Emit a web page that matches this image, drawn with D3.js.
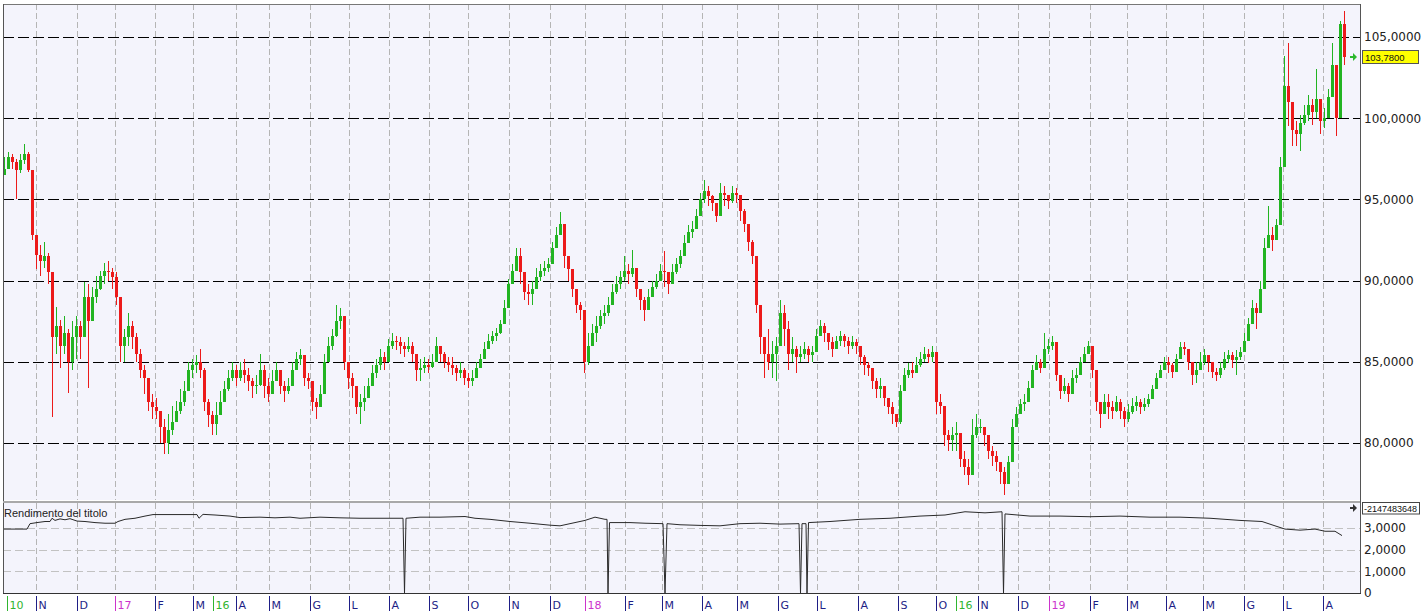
<!DOCTYPE html>
<html><head><meta charset="utf-8">
<script src="https://cdn.jsdelivr.net/npm/d3@7"></script>
<style>body{margin:0;background:#fff}svg{display:block}</style>
</head><body>
<svg id="chart" width="1421" height="612"></svg>
<script>
// ---- DATA (each bar ~ 2 trading days, Oct 2016 .. Aug 2019) ----
const closes = [
96.9,97.6,97.3,96.8,97.4,97.8,96.8,92.8,91.6,91.2,
91.5,90.5,86.5,87.2,86.0,86.8,85.0,86.5,87.2,86.5,
89.0,87.5,89.0,89.5,90.3,90.6,90.5,90.2,89.0,86.0,
86.5,87.2,86.5,85.5,84.5,84.0,82.5,82.2,82.0,81.0,
80.0,80.8,81.3,82.0,82.5,83.2,84.5,84.8,85.0,84.5,
82.5,81.7,81.2,81.7,82.5,83.3,84.0,84.5,84.0,84.5,
84.2,83.8,83.5,83.6,84.5,83.5,83.0,83.8,84.5,83.5,
83.2,83.5,84.5,85.2,85.4,84.0,83.8,82.5,82.2,83.0,
85.0,86.0,86.6,87.5,87.8,85.0,84.0,83.5,82.2,82.5,
82.8,83.5,84.3,84.8,85.3,85.0,86.0,86.3,86.2,86.0,
85.8,86.0,85.5,84.5,84.6,84.8,84.7,85.0,86.0,85.5,
85.0,84.8,84.6,84.3,84.5,84.0,83.8,84.0,84.6,85.2,
85.8,86.3,86.6,86.8,87.3,88.3,89.8,90.6,91.5,90.5,
89.3,89.2,89.5,90.2,90.6,90.8,91.0,92.0,92.8,93.5,
91.5,90.7,89.5,88.5,88.2,85.0,86.0,86.8,87.2,87.8,
88.0,88.5,89.3,89.8,90.2,90.6,90.4,90.8,89.5,88.8,
88.2,89.0,89.6,90.0,90.6,90.5,89.8,90.5,91.0,91.5,
92.3,93.0,93.2,94.0,95.0,95.5,95.2,94.8,94.0,95.4,
95.3,94.9,95.4,95.3,94.3,93.5,92.4,91.5,88.5,86.5,
85.5,85.0,85.5,86.0,88.0,87.0,85.5,85.8,85.3,85.5,
85.8,85.4,85.6,86.6,87.2,86.8,86.2,85.8,86.3,86.6,
86.3,86.0,86.2,86.0,85.3,84.8,84.6,83.8,83.3,83.5,
82.8,82.2,81.8,81.3,83.2,84.2,84.5,84.3,84.8,85.2,
85.5,85.3,85.6,82.5,82.3,80.5,80.2,80.5,80.6,79.0,
78.5,78.0,80.5,81.0,81.0,80.5,79.5,79.2,78.8,78.2,
77.5,78.8,81.0,81.8,82.4,82.5,83.4,84.5,85.0,84.6,
85.8,86.0,86.2,84.2,83.2,83.5,83.0,84.0,84.2,85.0,
85.5,86.0,84.5,82.5,81.8,82.5,82.2,82.0,82.5,82.0,
81.5,81.9,82.3,82.5,82.2,82.4,82.7,83.3,84.0,84.5,
85.0,84.8,84.4,85.2,85.9,85.8,85.0,84.2,84.5,85.0,
85.4,85.0,84.4,84.2,84.6,85.2,85.4,85.1,85.3,85.6,
86.3,87.3,88.3,88.0,89.5,92.0,92.8,92.5,93.4,97.0,
102.0,101.0,99.3,99.0,99.7,100.2,100.8,100.4,101.2,99.8,
100.0,101.3,103.3,100.0,105.8,103.78
];
const highs = [
97.6,97.9,97.8,97.5,97.8,98.4,97.9,96.5,92.6,92.2,
92.4,91.7,88.5,88.4,87.6,87.8,87.0,87.5,87.8,87.5,
89.9,89.8,89.6,90.3,90.6,91.1,91.2,90.8,90.5,88.5,
87.0,88.0,87.5,86.8,85.8,84.8,83.5,83.0,82.8,82.0,
81.5,81.8,82.3,82.6,83.3,83.8,85.0,85.2,85.4,85.8,
84.6,82.7,82.0,82.5,83.2,83.8,84.5,85.0,84.8,85.0,
85.2,84.6,84.0,84.2,85.5,84.8,84.0,84.5,85.0,84.3,
83.8,84.0,85.0,85.6,85.8,85.2,84.3,83.5,82.8,83.6,
85.5,86.5,87.0,88.5,88.3,87.8,85.0,84.3,83.5,83.0,
83.5,84.0,84.8,85.2,85.8,85.6,86.4,86.8,86.6,86.5,
86.2,86.5,86.2,85.5,85.2,85.3,85.2,85.5,86.5,86.0,
85.6,85.3,85.3,84.8,85.0,84.6,84.3,84.5,85.0,85.5,
86.2,86.7,86.9,87.1,87.6,88.8,90.1,91.0,92.0,92.0,
90.3,89.8,90.0,90.8,91.0,91.2,91.4,92.4,93.3,94.2,
93.5,91.4,90.6,89.5,88.7,88.0,86.8,87.3,87.8,88.2,
88.5,89.0,89.8,90.3,90.6,91.5,91.0,91.9,90.8,89.5,
89.0,89.5,90.0,90.4,91.0,91.8,90.5,91.0,91.4,91.9,
92.8,93.4,93.7,94.4,95.4,96.2,95.8,95.3,94.8,96.0,
95.8,95.3,95.8,95.7,95.0,94.4,93.3,92.5,90.5,88.0,
86.5,87.0,86.3,86.5,88.8,88.5,87.5,86.5,86.0,86.0,
86.2,86.0,86.0,87.0,87.6,87.4,86.8,86.5,86.6,86.9,
86.7,86.5,86.6,86.4,86.0,85.4,85.0,84.6,84.0,84.0,
83.5,82.8,82.5,81.8,83.6,84.6,84.9,85.0,85.3,85.6,
85.9,85.8,86.0,84.0,83.0,82.0,80.8,81.0,81.3,80.2,
79.5,79.0,81.5,81.8,81.5,81.0,80.3,79.8,79.5,78.8,
78.5,79.2,81.5,82.2,82.7,83.0,83.8,84.8,85.4,85.2,
86.8,86.4,86.6,86.0,84.0,84.0,83.7,84.5,84.6,85.3,
85.9,86.3,86.0,84.0,82.5,83.0,83.0,82.6,82.9,82.7,
82.2,82.4,82.8,82.9,82.7,82.8,83.0,83.6,84.3,84.8,
85.3,85.3,84.9,85.5,86.2,86.2,85.8,85.0,85.0,85.6,
85.8,85.4,84.9,84.6,85.0,85.6,85.7,85.6,85.7,85.9,
86.8,87.7,88.8,88.6,90.0,92.6,94.6,93.3,93.8,97.6,
103.8,104.6,100.5,99.8,100.2,100.8,101.4,101.2,103.0,101.0,
100.6,101.8,104.6,102.5,106.0,106.6
];
const lows = [
96.5,96.9,96.9,95.0,96.6,97.2,96.7,92.5,90.7,90.3,
90.8,89.8,81.6,85.5,84.6,85.5,83.1,84.5,85.2,85.2,
87.0,83.4,88.0,88.6,89.4,89.8,90.0,89.5,88.5,85.0,
85.0,86.0,85.8,85.0,84.0,83.0,82.0,81.5,81.5,80.0,
79.3,79.3,80.5,81.3,81.8,82.3,83.2,84.0,84.3,84.0,
82.0,81.0,80.5,80.5,81.8,82.5,83.2,83.8,83.5,83.8,
83.7,83.2,82.8,83.0,83.5,82.8,82.5,83.0,83.8,83.0,
82.5,83.0,83.8,84.6,84.8,83.5,83.3,82.0,81.5,82.2,
83.5,85.0,85.7,86.5,87.0,84.5,83.3,82.8,81.8,81.2,
82.0,82.8,83.5,84.0,84.5,84.5,85.0,85.8,85.7,85.5,
85.3,85.6,85.0,83.8,83.8,84.3,84.3,84.6,85.0,85.0,
84.6,84.4,84.2,83.8,84.0,83.6,83.4,83.5,84.0,84.6,
85.2,85.8,86.1,86.3,86.7,87.5,89.0,89.9,90.8,89.8,
88.8,88.5,88.5,89.6,90.0,90.3,90.5,91.0,92.2,92.8,
90.8,90.0,89.0,88.0,87.6,84.3,84.8,86.0,86.2,87.0,
87.3,87.8,88.8,89.2,89.5,90.0,89.8,90.2,89.0,88.2,
87.5,88.3,89.0,89.5,90.0,89.6,89.2,89.8,90.4,90.8,
91.8,92.4,92.6,93.3,94.3,94.8,94.6,94.3,93.6,94.5,
94.6,94.4,94.8,94.8,93.7,93.0,91.8,91.0,88.0,85.5,
84.0,84.5,84.0,83.8,86.5,86.0,84.5,85.0,84.3,85.0,
85.2,85.0,85.0,85.8,86.6,86.2,85.7,85.3,85.8,86.0,
85.9,85.5,85.8,85.5,84.8,84.2,84.1,83.3,82.8,82.8,
82.3,81.8,81.2,81.0,81.2,83.5,84.0,84.0,84.4,84.7,
85.0,84.9,85.0,81.8,81.8,79.8,79.5,79.5,79.5,78.5,
78.0,77.4,79.0,80.3,80.6,79.8,79.0,78.6,78.3,77.5,
76.8,78.0,78.8,81.2,81.8,82.0,82.8,83.8,84.5,84.3,
85.2,85.5,85.7,83.8,82.7,83.0,82.5,83.5,83.7,84.5,
85.0,85.5,84.0,82.0,80.9,81.8,81.5,81.5,81.9,81.5,
81.0,81.3,81.8,82.0,81.8,82.0,82.2,82.8,83.4,84.0,
84.5,84.3,84.0,84.6,85.3,85.4,84.5,83.6,83.7,84.5,
84.8,84.4,84.0,83.8,84.0,84.5,84.9,84.6,84.2,85.1,
85.7,86.6,87.7,87.0,88.8,90.5,92.0,91.8,92.8,93.5,
97.5,99.5,98.3,98.3,98.0,99.6,99.8,99.6,100.0,99.0,
99.4,100.4,102.2,98.9,100.5,103.3
];
const firstOpen = 96.5;
const lastPrice = 103.78;
const priceTicks = [80, 85, 90, 95, 100, 105];
const perfTicks = [0, 1, 2, 3];
const perfLastText = "-2147483648";
const perfTitle = "Rendimento del titolo";

// time axis: label, kind (d = day, m = month, y = year), position in bar units
const tickLabels = ["10","N","D","17","F","M","16","A","M","G","L","A","S","O","N","D","18","F","M","A","M","G","L","A","S","O","16","N","D","19","F","M","A","M","G","L","A"];
const tickKinds  = ["d","m","m","y","m","m","d","m","m","m","m","m","m","m","m","m","y","m","m","m","m","m","m","m","m","m","d","m","m","y","m","m","m","m","m","m","m"];
const tickBars   = [0.75,8,18.25,27.75,37.75,47.25,52.25,58,66.25,76.5,86.25,96.25,106.25,116,126.25,136.5,145.25,155.25,164.5,174.5,183.25,193.5,203.25,213.5,223.5,233,238,243.5,253.5,261.25,271.5,280.75,290.5,299.75,310,319.75,329.75];

// "Rendimento del titolo" line: time (bar units) and value
const perfBars = [-0.25,5.75,6.5,8.25,10.25,11.5,12,12.75,14,15.25,16.5,18.25,20.25,22.75,25.25,27.75,28.5,30.25,32.75,35.25,37.25,48.25,48.75,49.75,52.75,56.5,59,64,67.75,71.5,74,79,84,89,94,99.75,100.125,100.5,104,109,115.25,117.75,121.5,126.5,131.5,136.5,139,141.5,145.25,147.75,150.25,150.75,151,151.375,156.5,160.25,164.75,165.25,165.75,169,174,179,184,189,194,198.75,199.125,199.5,200.5,200.75,201.125,206.5,214,221.5,229,235.25,240.25,245.25,249.5,249.875,250.25,256.5,264,271.5,279,286.5,294,301.5,309,314.5,317.75,320.25,324,327.75,330.25,332.75,334.5];
const perfVals = [2.95,2.95,3.2,3.25,3.3,3.3,3.45,3.35,3.42,3.38,3.43,3.32,3.3,3.25,3.22,3.22,3.3,3.4,3.45,3.55,3.62,3.62,3.45,3.63,3.6,3.55,3.48,3.5,3.47,3.5,3.45,3.5,3.47,3.45,3.45,3.45,0,3.45,3.5,3.5,3.53,3.45,3.4,3.3,3.22,3.13,3.1,3.2,3.35,3.5,3.4,3.4,0,3.25,3.25,3.22,3.2,0,3.2,3.15,3.12,3.1,3.2,3.22,3.18,3.2,0,3.2,3.2,0,3.25,3.3,3.4,3.45,3.55,3.6,3.75,3.7,3.75,0,3.65,3.55,3.55,3.52,3.55,3.5,3.5,3.45,3.35,3.3,3.1,2.95,2.9,2.95,2.85,2.85,2.65];

(function () {
// ---- LAYOUT ----
const pL = 3, pR = 1360, pT = 4, mainB = 500, subT = 503, subB = 593;
const bg = "#f4f4fc";
const upColor = "#22b422", downColor = "#ec1a1a";
const kindColor = {d: "#2fb52f", m: "#1e1e86", y: "#cc33cc"};

const svg = d3.select("#chart");
const x = d3.scaleLinear().domain([0, closes.length - 1]).range([4, 1344]);
const y = d3.scaleLinear().domain([80, 105]).range([443, 37]);
const ys = d3.scaleLinear().domain([0, 3]).range([593, 528]);

svg.append("rect").attr("width", 1421).attr("height", 612).attr("fill", "#fff");
svg.append("rect").attr("x", pL).attr("y", pT).attr("width", pR - pL).attr("height", mainB - pT).attr("fill", bg);
svg.append("rect").attr("x", pL).attr("y", subT).attr("width", pR - pL).attr("height", subB - subT).attr("fill", bg);

// vertical grid (months and years)
const gridBars = tickBars.filter((d, i) => tickKinds[i] !== "d");
const vg = svg.append("g").attr("stroke", "#b5b5b5").attr("stroke-dasharray", "6,3").attr("shape-rendering", "crispEdges");
gridBars.forEach(b => {
  const xx = Math.round(x(b)) + 0.5;
  vg.append("line").attr("x1", xx).attr("x2", xx).attr("y1", pT).attr("y2", mainB);
  vg.append("line").attr("x1", xx).attr("x2", xx).attr("y1", subT).attr("y2", subB);
});

// horizontal grid
const hg = svg.append("g").attr("shape-rendering", "crispEdges");
priceTicks.forEach(v => {
  const yy = Math.round(y(v)) + 0.5;
  hg.append("line").attr("x1", pL).attr("x2", pR).attr("y1", yy).attr("y2", yy)
    .attr("stroke", "#000").attr("stroke-dasharray", "11,4");
});
perfTicks.filter(v => v > 0).forEach(v => {
  const yy = Math.round(ys(v)) + 0.5;
  hg.append("line").attr("x1", pL).attr("x2", pR).attr("y1", yy).attr("y2", yy)
    .attr("stroke", "#c2c2c2").attr("stroke-dasharray", "8,4");
});

// candles
const bars = closes.map((c, i) => {
  const o = i === 0 ? firstOpen : closes[i - 1];
  return {i, o, c, h: Math.max(highs[i], o, c), l: Math.min(lows[i], o, c)};
});
const cg = svg.append("g").attr("shape-rendering", "crispEdges");
cg.selectAll("line").data(bars).join("line")
  .attr("x1", d => x(d.i) + 0.5).attr("x2", d => x(d.i) + 0.5)
  .attr("y1", d => y(d.h)).attr("y2", d => y(d.l))
  .attr("stroke", d => d.c >= d.o ? upColor : downColor).attr("stroke-width", 1);
cg.selectAll("rect").data(bars).join("rect")
  .attr("x", d => x(d.i) - 1).attr("width", 3)
  .attr("y", d => y(Math.max(d.o, d.c)))
  .attr("height", d => Math.max(1, y(Math.min(d.o, d.c)) - y(Math.max(d.o, d.c))))
  .attr("fill", d => d.c >= d.o ? upColor : downColor);

// performance line
const perf = perfBars.map((b, i) => [b, perfVals[i]]);
svg.append("path").datum(perf)
  .attr("d", d3.line().x(d => x(d[0])).y(d => ys(d[1])))
  .attr("fill", "none").attr("stroke", "#2a2a2a").attr("stroke-width", 1);

svg.append("text").attr("x", 4).attr("y", 517).text(perfTitle)
  .attr("font-family", "Liberation Sans, Arial, sans-serif").attr("font-size", 11).attr("fill", "#222");

// borders
const bd = svg.append("g").attr("shape-rendering", "crispEdges");
bd.append("line").attr("x1", pL).attr("x2", pR).attr("y1", pT + 0.5).attr("y2", pT + 0.5).attr("stroke", "#777");
bd.append("line").attr("x1", pL + 0.5).attr("x2", pL + 0.5).attr("y1", pT).attr("y2", subB).attr("stroke", "#555");
bd.append("line").attr("x1", pR + 0.5).attr("x2", pR + 0.5).attr("y1", pT).attr("y2", subB).attr("stroke", "#555");
bd.append("line").attr("x1", pL).attr("x2", pR).attr("y1", 501.5).attr("y2", 501.5).attr("stroke", "#a9a9a9").attr("stroke-width", 2);
bd.append("line").attr("x1", pL).attr("x2", pR + 1).attr("y1", subB + 0.5).attr("y2", subB + 0.5).attr("stroke", "#333");

// right axes
const fmt4 = v => d3.format(".4f")(v).replace(".", ",");
const ay = svg.append("g").attr("transform", `translate(${pR},0)`)
  .call(d3.axisRight(y).tickValues(priceTicks).tickSize(0).tickPadding(4).tickFormat(fmt4));
const ays = svg.append("g").attr("transform", `translate(${pR},0)`)
  .call(d3.axisRight(ys).tickValues(perfTicks).tickSize(0).tickPadding(4).tickFormat(v => v === 0 ? "0" : fmt4(v)));
[ay, ays].forEach(g => {
  g.select(".domain").remove();
  g.selectAll("text").attr("font-family", "DejaVu Sans, Verdana, sans-serif").attr("font-size", 12).attr("fill", "#222");
});

// bottom time axis
const ax = svg.append("g").attr("transform", "translate(0,596)")
  .call(d3.axisBottom(x).tickValues(tickBars).tickSize(15).tickFormat((d, i) => tickLabels[i]));
ax.select(".domain").remove();
ax.selectAll(".tick").each(function (d, i) {
  const g = d3.select(this);
  const col = kindColor[tickKinds[i]];
  g.select("line").attr("stroke", col).attr("shape-rendering", "crispEdges");
  g.select("text").attr("text-anchor", "start").attr("x", 2).attr("y", 5)
    .attr("fill", col).attr("font-family", "DejaVu Sans, Verdana, sans-serif").attr("font-size", 11);
});

// last value markers
function arrow(cx, cy, color) {
  svg.append("path")
    .attr("d", `M${cx - 3},${cy - 1} h3 v-3 l4,4 l-4,4 v-3 h-3 z`)
    .attr("fill", color);
}
const py = Math.round(y(lastPrice));
arrow(1353, py, "#2db82d");
svg.append("rect").attr("x", 1362.5).attr("y", py - 6.5).attr("width", 56).attr("height", 13)
  .attr("fill", "#ffff00").attr("stroke", "#555");
svg.append("text").attr("x", 1365).attr("y", py + 3.5).text(fmt4(lastPrice))
  .attr("font-family", "Liberation Sans, Arial, sans-serif").attr("font-size", 9.5).attr("fill", "#111");

arrow(1353, 508, "#333");
svg.append("rect").attr("x", 1362.5).attr("y", 502.5).attr("width", 57).attr("height", 11.5)
  .attr("fill", "#fff").attr("stroke", "#444");
svg.append("text").attr("x", 1364).attr("y", 511.5).text(perfLastText)
  .attr("font-family", "Liberation Sans, Arial, sans-serif").attr("font-size", 9).attr("fill", "#111");
})();
</script>
</body></html>
